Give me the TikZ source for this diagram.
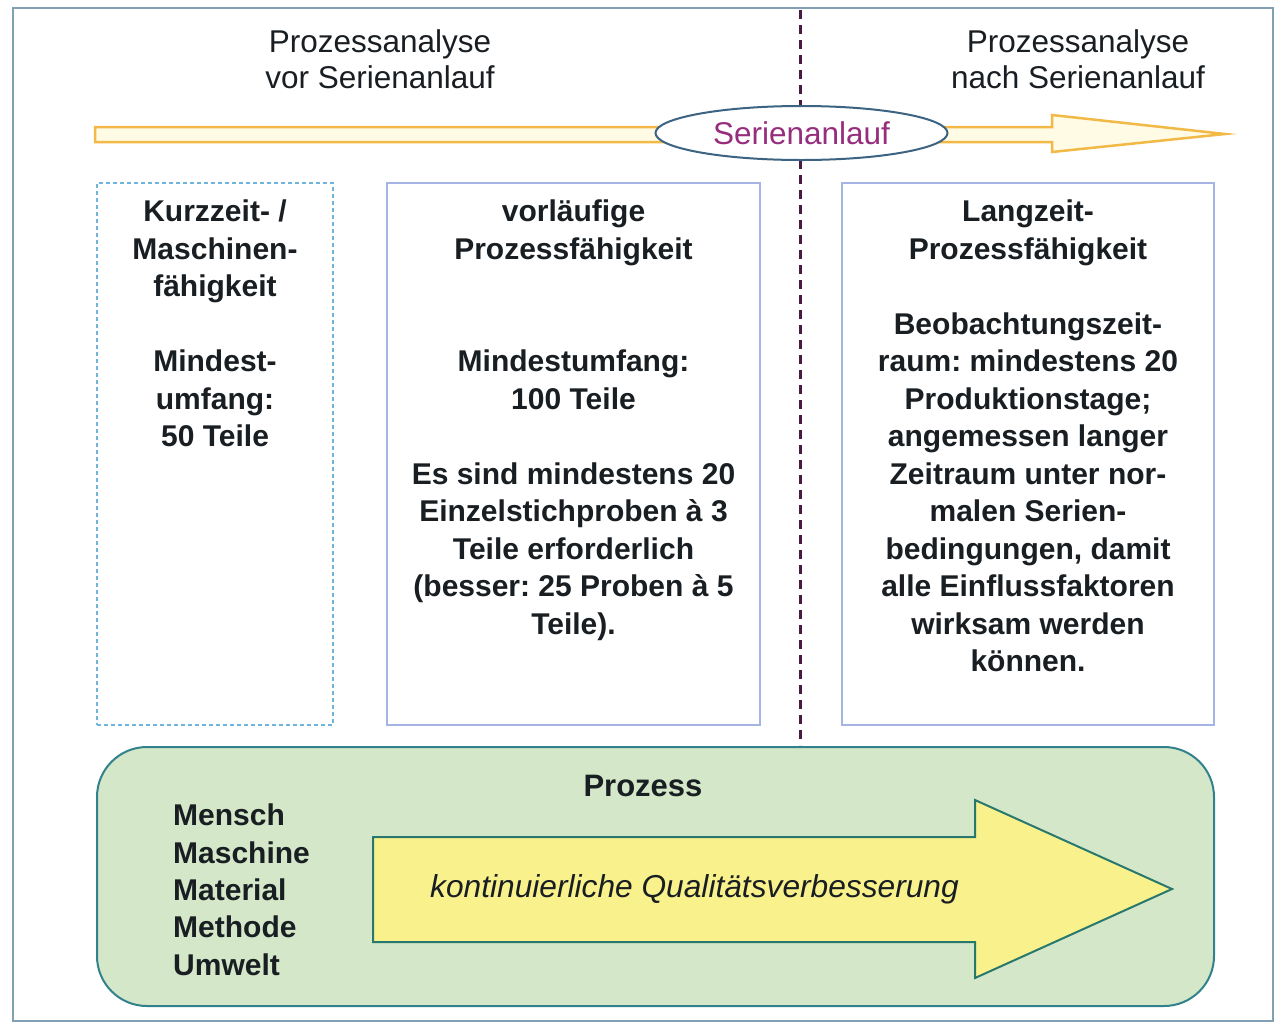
\documentclass[tikz,border=0pt]{standalone}
\usepackage{fontspec}
\setmainfont{Liberation Sans}
\usetikzlibrary{shapes.geometric}
\frenchspacing
\definecolor{framec}{RGB}{130,160,180}
\definecolor{dashbox}{RGB}{110,180,220}
\definecolor{solidbox}{RGB}{165,180,228}
\definecolor{ellc}{RGB}{60,100,130}
\definecolor{serc}{RGB}{150,45,125}
\definecolor{vline}{RGB}{75,25,65}
\definecolor{arrowor}{RGB}{242,185,70}
\definecolor{arrowfill}{RGB}{255,251,228}
\definecolor{greenfill}{RGB}{212,231,200}
\definecolor{greendraw}{RGB}{50,130,140}
\definecolor{yellowfill}{RGB}{248,241,140}
\definecolor{yellowdraw}{RGB}{40,120,110}
\definecolor{txt}{RGB}{25,30,35}
\tikzset{
  titletext/.style={align=center, inner sep=0pt, text=txt, font=\fontsize{31.5}{36.5}\selectfont},
  boxtext/.style={align=center, inner sep=0pt, text=txt, font=\bfseries\fontsize{30}{37.5}\selectfont},
  dashframe/.style={draw=dashbox, line width=1.6pt, dash pattern=on 4pt off 3pt, fill=white, inner sep=0pt},
  solidframe/.style={draw=solidbox, line width=2pt, fill=white, inner sep=0pt},
}
\begin{document}
\begin{tikzpicture}[x=1pt,y=-1pt]
\useasboundingbox (0,0) rectangle (1275,1029);
\fill[white] (0,0) rectangle (1275,1029);
\draw[framec, line width=2.5pt] (13,8) rectangle (1273,1021);

% titles
\node[titletext, anchor=north] (tl) at (380,29) {Prozessanalyse\\vor Serienanlauf};
\node[titletext, anchor=north] (tr) at (1078,29) {Prozessanalyse\\nach Serienanlauf};

% vertical dashed separator
\coordinate (vtop) at (800,10);
\coordinate (vbot) at (800,745);
\draw[vline, line width=3pt, dash pattern=on 9pt off 6pt] (vtop) -- (vbot);

% top time arrow
\draw[arrowor, fill=arrowfill, line width=2.5pt, line join=miter]
  (95,127) -- (1052,127) -- (1052,115) -- (1225,134) -- (1052,152) -- (1052,142) -- (95,142) -- cycle;

% Serienanlauf ellipse
\node[ellipse, draw=ellc, line width=2pt, fill=white, minimum width=292, minimum height=54, inner sep=0pt,
      text=serc, font=\fontsize{31.5}{36}\selectfont] (se) at (801.5,133) {Serienanlauf};

% boxes
\node[dashframe, minimum width=236, minimum height=542] (b1) at (215,454) {};
\node[solidframe, minimum width=373, minimum height=542] (b2) at (573.5,454) {};
\node[solidframe, minimum width=372, minimum height=542] (b3) at (1028,454) {};

\node[boxtext, anchor=north] (t1) at (215,200)
  {Kurzzeit- /\\Maschinen-\\fähigkeit\\[37.5pt]Mindest-\\umfang:\\50 Teile};
\node[boxtext, anchor=north] (t2) at (573.5,200)
  {vorläufige\\Prozessfähigkeit\\[75pt]Mindestumfang:\\100 Teile\\[37.5pt]Es sind mindestens 20\\Einzelstichproben à 3\\Teile erforderlich\\(besser: 25 Proben à 5\\Teile).};
\node[boxtext, anchor=north] (t3) at (1028,200)
  {Langzeit-\\Prozessfähigkeit\\[37.5pt]Beobachtungszeit-\\raum: mindestens 20\\Produktionstage;\\angemessen langer\\Zeitraum unter nor-\\malen Serien-\\bedingungen, damit\\alle Einflussfaktoren\\wirksam werden\\können.};

% process box
\draw[greendraw, fill=greenfill, line width=2pt, rounded corners=50pt] (97,747) rectangle (1214,1006);
\node[inner sep=0pt, text=txt, font=\bfseries\fontsize{31}{36}\selectfont, anchor=base] (pz) at (643,796) {Prozess};
\node[align=left, inner sep=0pt, text=txt, font=\bfseries\fontsize{30}{37.3}\selectfont, anchor=north west] (list) at (173,804)
  {Mensch\\Maschine\\Material\\Methode\\Umwelt};

% big yellow arrow
\draw[yellowdraw, fill=yellowfill, line width=2pt, line join=miter]
  (373,837) -- (975,837) -- (975,800) -- (1172,889) -- (975,978) -- (975,942) -- (373,942) -- cycle;
\node[inner sep=0pt, text=txt, font=\itshape\fontsize{31.7}{36}\selectfont, anchor=base] (kq) at (694.5,897)
  {kontinuierliche Qualitätsverbesserung};
\end{tikzpicture}
\end{document}
